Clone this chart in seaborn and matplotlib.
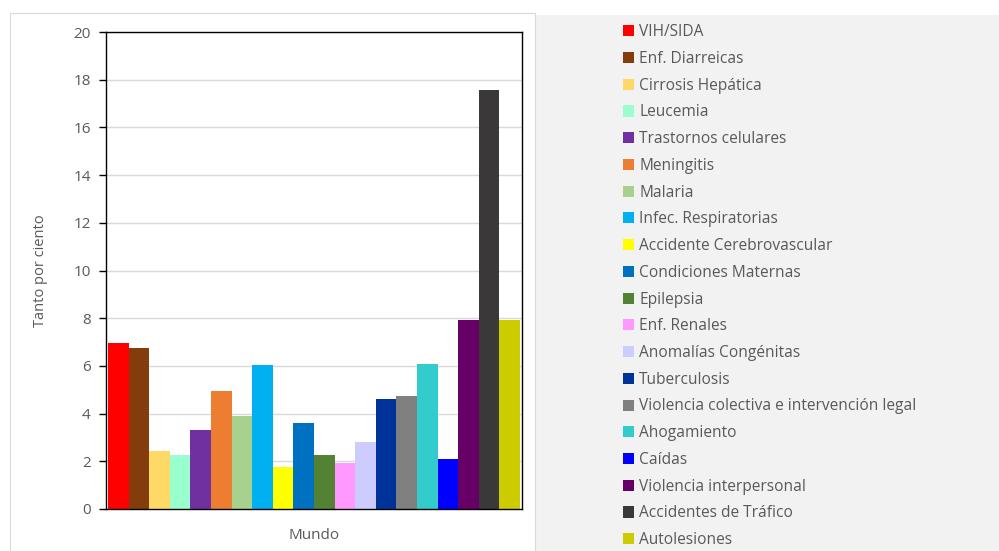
import pandas as pd
import matplotlib
matplotlib.use("Agg")
import matplotlib.pyplot as plt
import matplotlib.patches as mpatches
import seaborn as sns

# datos
causas = ["VIH/SIDA", "Enf. Diarreicas", "Cirrosis Hepática", "Leucemia",
          "Trastornos celulares", "Meningitis", "Malaria", "Infec. Respiratorias",
          "Accidente Cerebrovascular", "Condiciones Maternas", "Epilepsia",
          "Enf. Renales", "Anomalías Congénitas", "Tuberculosis",
          "Violencia colectiva e intervención legal", "Ahogamiento", "Caídas",
          "Violencia interpersonal", "Accidentes de Tráfico", "Autolesiones"]
valores = [6.96, 6.75, 2.43, 2.26, 3.31, 4.96, 3.90, 6.04, 1.76, 3.61, 2.26,
           1.93, 2.81, 4.61, 4.74, 6.08, 2.10, 7.92, 17.57, 7.92]
colores = ["#ff0000", "#843c0c", "#ffd966", "#99ffcc", "#7030a0", "#ed7d31",
           "#a9d18e", "#00b0f0", "#ffff00", "#0070c0", "#548235", "#ff99ff",
           "#ccccff", "#003399", "#808080", "#33cccc", "#0000ff", "#660066",
           "#3a3838", "#cccc00"]
region = "Mundo"

df = pd.DataFrame({"region": region, "causa": causas, "valor": valores})

sns.set_style("white")
plt.rcParams["font.family"] = ["Open Sans", "DejaVu Sans"]
gris_txt = "#595959"

fig = plt.figure(figsize=(9.99, 5.51), dpi=100)
# fondo del area de la leyenda
fig.patches.append(mpatches.Rectangle((535 / 999, 0), 464 / 999, 1 - 15 / 551,
                                      transform=fig.transFigure, facecolor="#f2f2f2",
                                      edgecolor="none", zorder=0))
fig.patches.append(mpatches.Rectangle((10 / 999, -0.01), 525 / 999, 1 - 13 / 551 + 0.01,
                                      transform=fig.transFigure, facecolor="none",
                                      edgecolor="#d9d9d9", linewidth=0.8, zorder=0))

ax = fig.add_axes([106 / 999, 1 - 509 / 551, 416 / 999, 477 / 551])
sns.barplot(data=df, x="region", y="valor", hue="causa", hue_order=causas,
            palette=colores, width=0.99, saturation=1, legend=False,
            linewidth=0, ax=ax)

ax.set_ylim(0, 20)
ax.set_xlim(-0.5, 0.5)
ax.set_yticks(range(0, 21, 2))
ax.yaxis.grid(True, color="#d9d9d9", linewidth=1)
ax.set_axisbelow(True)
for s in ax.spines.values():
    s.set_color("black")
    s.set_linewidth(1)
ax.tick_params(axis="y", direction="out", length=5, width=1, color="black",
               labelsize=11, labelcolor=gris_txt, pad=6, left=True)
ax.tick_params(axis="x", length=0, labelsize=11, labelcolor=gris_txt, pad=14)
ax.set_xlabel("")
ax.set_ylabel("Tanto por ciento", fontsize=10.5, color=gris_txt, labelpad=18)

handles = [mpatches.Patch(facecolor=c, edgecolor="none", label=l)
           for c, l in zip(colores, causas)]
fig.legend(handles=handles, loc="upper left", bbox_to_anchor=(617 / 999, 1 - 18 / 551),
           frameon=False, fontsize=11.2, labelcolor=gris_txt, handlelength=0.72,
           handleheight=0.72, handletextpad=0.3, labelspacing=0.69, borderaxespad=0)

fig.savefig("out.png", dpi=100)
